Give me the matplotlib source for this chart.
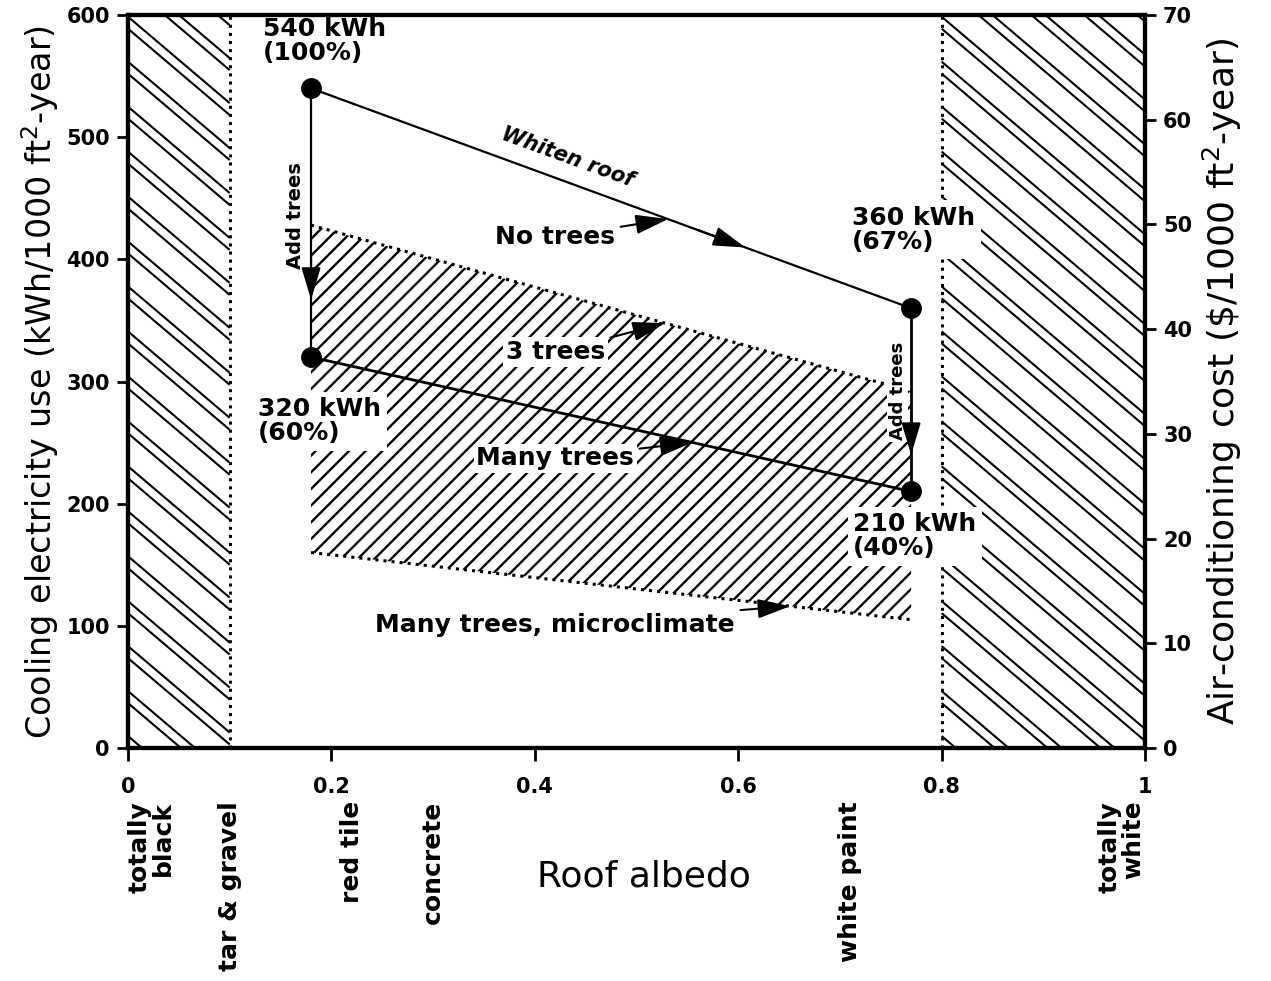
import matplotlib
matplotlib.use("Agg")
import matplotlib.pyplot as plt
import numpy as np

# === Chart values ===
roof_albedo = [0.18, 0.77]            # the two roof cases
no_trees = [540, 360]                 # kWh/1000 ft2-year
many_trees = [320, 210]
three_trees = [428, 292]              # upper edge of shaded band
microclimate = [160, 105]             # lower edge of shaded band

point_labels = ["540 kWh\n(100%)", "360 kWh\n(67%)", "320 kWh\n(60%)", "210 kWh\n(40%)"]

materials = ["totally\nblack", "tar & gravel", "red tile", "concrete", "white paint", "totally\nwhite"]
material_albedo = [0.0, 0.10, 0.22, 0.30, 0.71, 1.0]

x_ticks = [0, 0.2, 0.4, 0.6, 0.8, 1.0]
x_tick_labels = ["0", "0.2", "0.4", "0.6", "0.8", "1"]
kwh_ticks = [0, 100, 200, 300, 400, 500, 600]
cost_ticks = [0, 10, 20, 30, 40, 50, 60, 70]

# unrealistic albedo zones
dark_zone = [0.0, 0.1]
bright_zone = [0.8, 1.0]

plt.rcParams["font.family"] = ["DejaVu Sans"]
plt.rcParams["hatch.linewidth"] = 1.7

fig = plt.figure(figsize=(12.71, 9.81), dpi=100)
ax = fig.add_axes([0.1007, 0.2375, 0.8002, 0.7472])
ax.set_xlim(0, 1)
ax.set_ylim(0, 600)


def paired_hatch(ax, zone):
    # double-line "\\" hatch like the printed figure
    slope = -707.0          # kWh per unit albedo, about 40 deg on screen
    period, gap = 36.8, 9.8
    drop = -slope * (zone[1] - zone[0])
    xs = np.array(zone)
    for base in np.arange(-period, 600 + drop + period, period):
        for c in (base, base + gap):
            ax.plot(xs, c + slope * (xs - zone[0]), color="black", lw=1.5,
                    solid_capstyle="butt", zorder=1)


# === Hatched side zones ===
for zone in [dark_zone, bright_zone]:
    paired_hatch(ax, zone)
ax.axvline(dark_zone[1], color="black", linestyle=":", linewidth=2.2, zorder=2)
ax.axvline(bright_zone[0], color="black", linestyle=":", linewidth=2.2, zorder=2)

# === Shaded band between 3 trees and many trees + microclimate ===
ax.fill_between(roof_albedo, microclimate, three_trees, facecolor="none", edgecolor="black",
                hatch="//", linewidth=0, zorder=1)
ax.plot(roof_albedo, three_trees, color="black", linestyle=":", linewidth=2.2, zorder=2)
ax.plot(roof_albedo, microclimate, color="black", linestyle=":", linewidth=2.2, zorder=2)

# === Main lines ===
ax.plot(roof_albedo, no_trees, color="black", linewidth=1.6, zorder=3)
ax.plot(roof_albedo, many_trees, color="black", linewidth=2.0, zorder=3)
ax.plot([roof_albedo[0]] * 2, [no_trees[0], many_trees[0]], color="black", linewidth=1.6, zorder=3)
ax.plot([roof_albedo[1]] * 2, [no_trees[1], many_trees[1]], color="black", linewidth=2.0, zorder=3)
ax.plot(roof_albedo + roof_albedo, no_trees + many_trees, "o", color="black",
        markersize=14, zorder=5)

head = dict(arrowstyle="-|>,head_length=1.0,head_width=0.3", color="black", lw=1.5,
            shrinkA=0, shrinkB=0, mutation_scale=20)

# arrowheads along the lines
x0, x1 = 0.56, 0.607
ax.annotate("", xy=(x1, np.interp(x1, roof_albedo, no_trees)),
            xytext=(x0, np.interp(x0, roof_albedo, no_trees)), arrowprops=head, zorder=4)
ax.annotate("", xy=(roof_albedo[0], 367), xytext=(roof_albedo[0], 405), arrowprops=head, zorder=4)
ax.annotate("", xy=(roof_albedo[1], 240), xytext=(roof_albedo[1], 275), arrowprops=head, zorder=4)

bold = dict(fontweight="bold", color="black")
ax.text(0.165, 436, "Add trees", rotation=90, ha="center", va="center", fontsize=14, **bold)
ax.text(0.757, 292, "Add trees", rotation=90, ha="center", va="center", fontsize=13, zorder=2.5,
        bbox=dict(facecolor="white", edgecolor="none", pad=1), **bold)
ax.text(0.432, 484, "Whiten roof", rotation=-20, ha="center", va="center", fontsize=15,
        fontstyle="italic", **bold)

# point labels
label_pos = [(0.133, 598), (0.712, 444), (0.128, 287), (0.713, 193)]
for (lx, ly), txt in zip(label_pos, point_labels):
    ax.text(lx, ly, txt, ha="left", va="top", fontsize=18, linespacing=1.0, zorder=6,
            bbox=dict(facecolor="white", edgecolor="none", pad=4), **bold)

# series annotations
notes = [("No trees", 0.420, 418, 0.531, no_trees),
         ("3 trees", 0.420, 324, 0.528, three_trees),
         ("Many trees", 0.420, 237, 0.555, many_trees),
         ("Many trees, microclimate", 0.420, 101, 0.651, microclimate)]
for txt, tx, ty, px, series in notes:
    ax.annotate(txt, xy=(px, np.interp(px, roof_albedo, series)), xytext=(tx, ty),
                ha="center", va="center", fontsize=18, zorder=6,
                bbox=dict(facecolor="white", edgecolor="none", pad=2),
                arrowprops=dict(arrowstyle="-|>,head_length=1.0,head_width=0.3", color="black",
                                lw=1.5, shrinkA=2, shrinkB=0, mutation_scale=20), **bold)

# === Axes styling ===
for side in ax.spines.values():
    side.set_linewidth(3)
    side.set_zorder(7)
ax.set_xticks(x_ticks)
ax.set_xticklabels(x_tick_labels)
ax.set_yticks(kwh_ticks)
ax.tick_params(axis="x", direction="out", length=9, width=2, pad=12, labelsize=15)
ax.tick_params(axis="y", direction="out", length=8, width=2, pad=5, labelsize=15)
for lab in ax.get_xticklabels() + ax.get_yticklabels():
    lab.set_fontweight("bold")
ax.set_ylabel("Cooling electricity use (kWh/1000 ft$^2$-year)", fontsize=24, labelpad=4)

ax2 = ax.twinx()
ax2.set_ylim(0, 70)
ax2.set_yticks(cost_ticks)
ax2.tick_params(axis="y", direction="out", length=8, width=2, pad=5, labelsize=15)
for lab in ax2.get_yticklabels():
    lab.set_fontweight("bold")
ax2.set_ylabel("Air-conditioning cost (\\$/1000 ft$^2$-year)", fontsize=26, labelpad=6)
for side in ax2.spines.values():
    side.set_linewidth(3)

# roof material labels under the axis
trans = ax.get_xaxis_transform()
for i, (txt, xv) in enumerate(zip(materials, material_albedo)):
    ha = "left" if i == 0 else ("right" if i == len(materials) - 1 else "center")
    ax.text(xv, -0.072, txt, transform=trans, rotation=90, ha=ha, va="top",
            multialignment="right", fontsize=18, linespacing=0.95, **bold)
ax.text(0.507, -0.175, "Roof albedo", transform=ax.transAxes, ha="center", va="center", fontsize=26)

fig.savefig("out.png", dpi=100)
